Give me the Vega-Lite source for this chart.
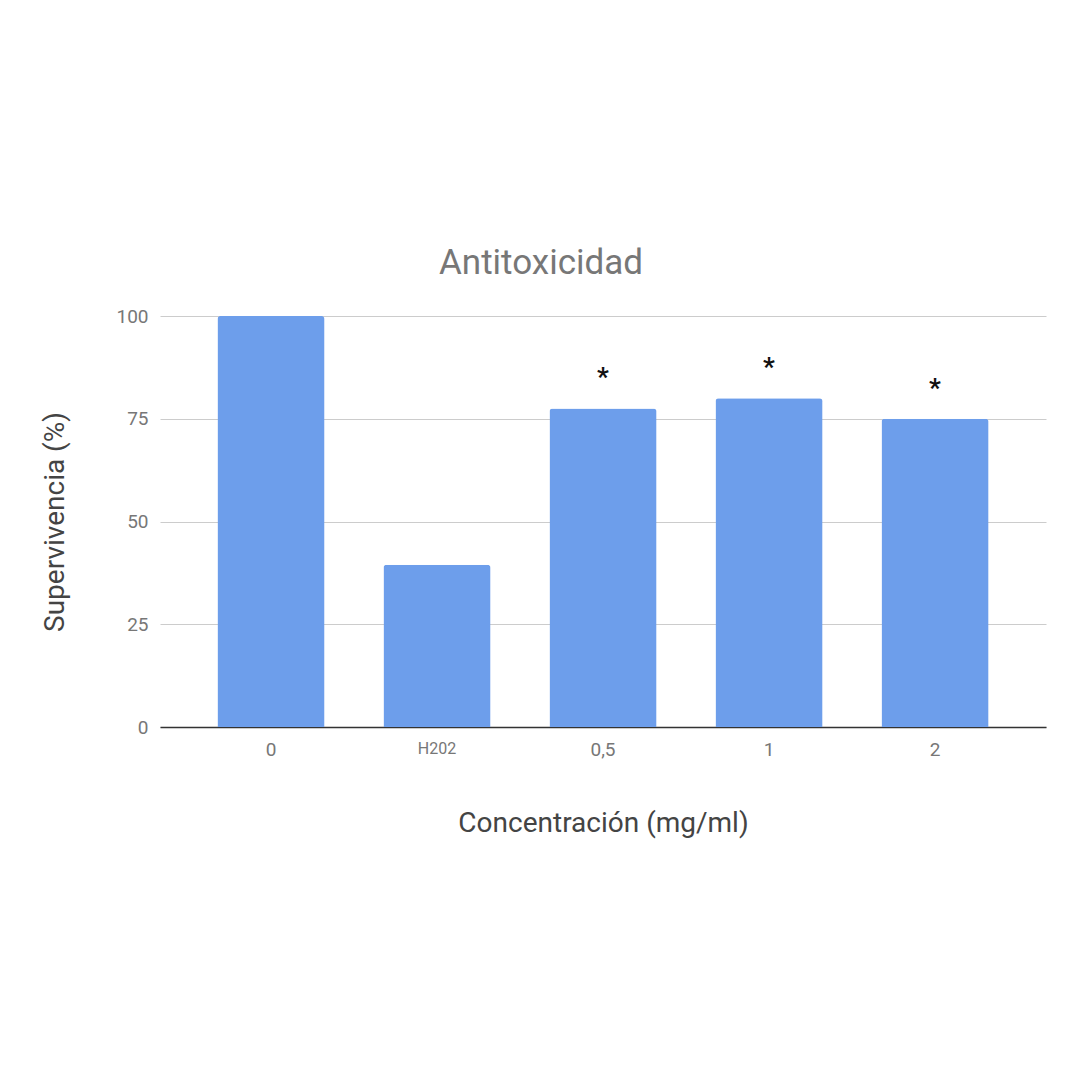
{
  "$schema": "https://vega.github.io/schema/vega-lite/v6.json",
  "width": 886,
  "height": 411,
  "autosize": "none",
  "padding": {"left": 160, "top": 316, "right": 34, "bottom": 353},
  "background": "white",
  "title": {
    "text": "Antitoxicidad",
    "font": "Roboto",
    "fontSize": 35,
    "fontWeight": "normal",
    "color": "#777777",
    "anchor": "middle",
    "dx": -62,
    "offset": -8
  },
  "data": {
    "values": [
      {"c": "0", "v": 100, "s": ""},
      {"c": "H202", "v": 39.5, "s": ""},
      {"c": "0,5", "v": 77.5, "s": "*"},
      {"c": "1", "v": 80, "s": "*"},
      {"c": "2", "v": 75, "s": "*"}
    ]
  },
  "config": {
    "view": {"stroke": null},
    "font": "Roboto"
  },
  "encoding": {
    "x": {
      "field": "c",
      "type": "nominal",
      "sort": null,
      "scale": {"paddingInner": 0.355, "paddingOuter": 0.346},
      "axis": {
        "title": "Concentración (mg/ml)",
        "titleFont": "Roboto",
        "titleFontSize": 28,
        "titleFontWeight": "normal",
        "titleColor": "#444444",
        "titlePadding": 50,
        "labelAngle": 0,
        "labelFont": "Roboto",
        "labelFontSize": {"condition": {"test": "datum.value === 'H202'", "value": 16}, "value": 19},
        "labelColor": "#777777",
        "labelPadding": 13,
        "ticks": false,
        "domainColor": "#333333",
        "domainWidth": 1.5,
        "grid": false
      }
    },
    "y": {
      "field": "v",
      "type": "quantitative",
      "scale": {"domain": [0, 100], "nice": false},
      "axis": {
        "title": "Supervivencia (%)",
        "titleFont": "Roboto",
        "titleFontSize": 28,
        "titleFontWeight": "normal",
        "titleColor": "#444444",
        "titlePadding": 46,
        "values": [0, 25, 50, 75, 100],
        "labelFont": "Roboto",
        "labelFontSize": 19,
        "labelColor": "#777777",
        "labelPadding": 12,
        "ticks": false,
        "domain": false,
        "gridColor": "#cccccc",
        "gridWidth": 1
      }
    }
  },
  "layer": [
    {
      "mark": {"type": "bar", "color": "#6d9eeb", "cornerRadiusTopLeft": 3, "cornerRadiusTopRight": 3}
    },
    {
      "mark": {"type": "text", "font": "Roboto", "fontSize": 26, "fontWeight": "bold", "color": "#111111", "baseline": "middle", "dy": -30},
      "encoding": {"text": {"field": "s"}}
    }
  ]
}
